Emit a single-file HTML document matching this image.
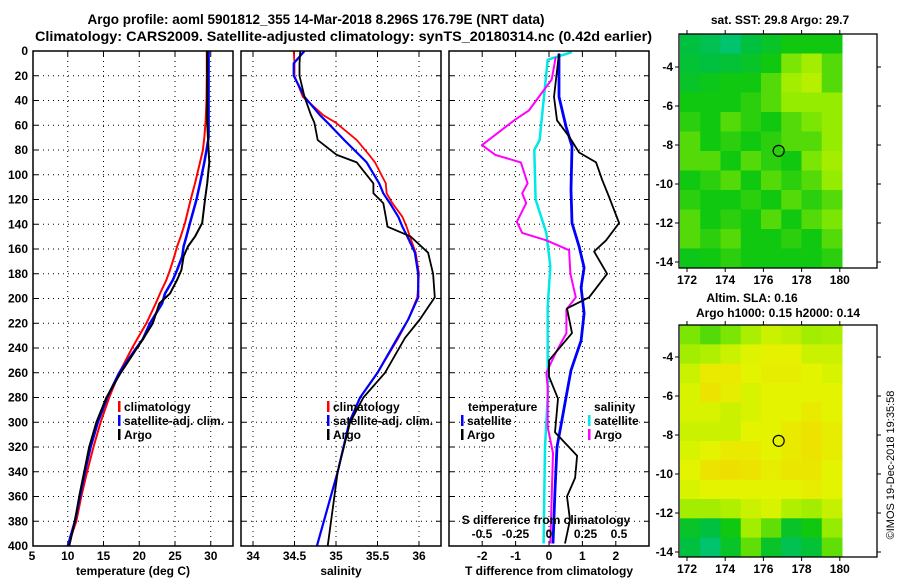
<!DOCTYPE html>
<html><head><meta charset="utf-8"><style>
html,body{margin:0;padding:0;background:#fff;}
svg{display:block;font-family:"Liberation Sans",Arial,sans-serif;font-weight:bold;}
</style></head><body>
<svg id="c" width="900" height="580" viewBox="0 0 900 580" xmlns="http://www.w3.org/2000/svg">
<text x="316" y="24" text-anchor="middle" font-size="13.5">Argo profile: aoml 5901812_355 14-Mar-2018 8.296S 176.79E (NRT data)</text>
<text x="343.5" y="41" text-anchor="middle" font-size="14" textLength="617" lengthAdjust="spacingAndGlyphs">Climatology: CARS2009. Satellite-adjusted climatology: synTS_20180314.nc (0.42d earlier)</text>
<text x="780" y="24" text-anchor="middle" font-size="12">sat. SST: 29.8 Argo: 29.7</text>
<text x="752" y="302" text-anchor="middle" font-size="12">Altim. SLA: 0.16</text>
<text x="778" y="317" text-anchor="middle" font-size="12">Argo h1000: 0.15 h2000: 0.14</text>
<text transform="translate(894,465) rotate(-90)" text-anchor="middle" font-size="11" font-weight="normal">©IMOS 19-Dec-2018 19:35:58</text>
</svg>
<script>
// ---- data ----
const depthTicks=[0,20,40,60,80,100,120,140,160,180,200,220,240,260,280,300,320,340,360,380,400];
const tDepth=[0,20,40,56,70,80,90,107,120,139,150,158,166,177,185,196,204,220,233,240,260,280,300,320,340,360,380,400];
const tClim=[29.45,29.45,29.4,29.3,29.1,28.9,28.5,27.8,27.2,26.4,25.8,25.3,24.9,24.3,23.8,22.9,22.3,21.0,19.7,19.0,17.2,15.8,14.6,13.6,12.7,11.9,11.2,10.0];
const tSat=[29.7,29.7,29.7,29.7,29.7,29.4,29.1,28.5,28.0,27.1,26.6,26.2,26.0,25.3,24.7,23.6,23.2,21.5,20.5,19.6,17.2,15.5,14.2,13.2,12.4,11.7,11.0,10.0];
const tArgo=[29.5,29.5,29.5,29.5,29.6,29.7,29.8,29.5,29.2,28.8,27.8,26.8,26.2,25.9,25.3,24.3,22.8,21.9,20.5,19.7,17.4,15.4,14.0,13.0,12.3,11.6,11.0,10.2];
const sDepth=[0,10,20,37,52,58,72,84,90,107,115,123,134,142,150,163,180,199,217,232,260,280,300,340,400];
const sClim=[34.49,34.5,34.5,34.6,34.85,35.0,35.25,35.4,35.47,35.6,35.61,35.68,35.8,35.85,35.89,35.96,36.0,35.98,35.87,35.75,35.5,35.29,35.16,35.02,34.77];
const sSat=[34.62,34.49,34.49,34.62,34.81,34.9,35.1,35.28,35.37,35.52,35.57,35.65,35.75,35.8,35.86,35.95,35.99,35.99,35.87,35.74,35.5,35.29,35.16,35.02,34.77];
const sArgo=[34.57,34.56,34.56,34.62,34.7,34.74,34.78,35.01,35.25,35.45,35.45,35.57,35.6,35.62,35.9,36.11,36.17,36.19,36.01,35.83,35.59,35.33,35.17,35.02,34.9];
const dTDepth=[2,37,56,69,82,90,104,118,139,153,162,180,199,208,228,250,263,281,308,327,345,360,379,398];
const dTArgo=[0.3,0.15,0.24,0.6,0.9,1.41,1.59,1.8,2.1,1.71,1.35,1.74,1.2,0.54,0.69,0.0,0.0,0.27,0.18,0.84,0.78,0.54,0.63,0.48];
const dTsDepth=[2,37,61,77,112,139,158,175,191,212,234,258,280,298,320,355,398];
const dTSat=[0.3,0.3,0.51,0.69,0.66,0.69,0.9,1.05,0.96,1.05,0.96,0.66,0.51,0.39,0.24,0.18,0.12];
const dSDepth=[5,23,48,56,76,84,90,107,115,123,138,147,153,161,180,199,209,228,244,260,272,304,325,360,398];
const dSArgo=[0.05,0.02,-0.15,-0.26,-0.5,-0.4,-0.21,-0.16,-0.2,-0.17,-0.24,-0.2,-0.02,0.15,0.16,0.2,0.13,0.13,0.05,-0.02,-0.01,-0.01,0.03,0.02,0.01];
const dSsDepth=[1,7,40,72,80,120,147,174,207,280,320,398];
const dSSat=[0.17,-0.01,-0.04,-0.07,-0.11,-0.1,-0.02,0.01,-0.01,-0.01,-0.03,-0.04];
const sstGrid=[
[0.4,0.38,0.35,0.4,0.45,0.5,0.5,0.5],
[0.42,0.4,0.42,0.45,0.5,0.58,0.62,0.55],
[0.45,0.48,0.5,0.5,0.55,0.62,0.65,0.55],
[0.5,0.5,0.5,0.52,0.55,0.6,0.6,0.6],
[0.52,0.5,0.55,0.52,0.5,0.55,0.58,0.6],
[0.55,0.5,0.52,0.5,0.52,0.55,0.55,0.6],
[0.55,0.55,0.5,0.55,0.52,0.5,0.58,0.62],
[0.5,0.52,0.55,0.5,0.55,0.52,0.55,0.6],
[0.52,0.5,0.5,0.52,0.5,0.55,0.52,0.55],
[0.55,0.5,0.52,0.5,0.55,0.5,0.55,0.58],
[0.55,0.52,0.55,0.5,0.5,0.52,0.5,0.55],
[0.48,0.5,0.52,0.5,0.5,0.5,0.5,0.52]];
const slaGrid=[
[0.58,0.55,0.58,0.63,0.68,0.66,0.62,0.63],
[0.62,0.64,0.68,0.71,0.73,0.73,0.68,0.68],
[0.68,0.75,0.75,0.72,0.74,0.74,0.72,0.7],
[0.7,0.77,0.74,0.7,0.72,0.72,0.72,0.72],
[0.7,0.7,0.68,0.7,0.72,0.72,0.75,0.72],
[0.68,0.68,0.68,0.72,0.72,0.75,0.77,0.74],
[0.7,0.72,0.75,0.75,0.72,0.75,0.77,0.74],
[0.72,0.77,0.78,0.77,0.74,0.76,0.76,0.72],
[0.7,0.72,0.72,0.72,0.72,0.72,0.74,0.72],
[0.62,0.62,0.64,0.68,0.7,0.64,0.62,0.67],
[0.45,0.4,0.5,0.62,0.56,0.45,0.5,0.6],
[0.4,0.35,0.45,0.56,0.45,0.38,0.42,0.56]];
const lonTicks=[172,174,176,178,180];
const latTicks=[-4,-6,-8,-10,-12,-14];
const argoLon=176.8, argoLat=-8.3;

// ---- helpers ----
const svg=document.getElementById('c');
const NS='http://www.w3.org/2000/svg';
function mk(tag,attrs,parent){const e=document.createElementNS(NS,tag);for(const k in attrs)e.setAttribute(k,attrs[k]);(parent||svg).appendChild(e);return e;}
const PT=51, PB=546;
const yD=d=>PT+(d/400)*(PB-PT);
const panels=[
 {l:33,r:233,x:v=>32+(v-5)*7.15,grid:[10,15,20,25,30],labels:[5,10,15,20,25,30],name:'temperature'},
 {l:241,r:441,x:v=>253+(v-34)*83,grid:[34,34.5,35,35.5,36],labels:[34,34.5,35,35.5,36],name:'salinity'},
 {l:449,r:649,x:v=>549+v*33.4,grid:[-2,-1,0,1,2],labels:[-2,-1,0,1,2],name:'t-difference'}];
const sx=v=>549+v*134;

panels.forEach((p,pi)=>{
 const g=mk('g',{});
 
 
 p.grid.forEach(v=>{const x=p.x(v);const ln=mk('line',{x1:x,x2:x,y1:PT,y2:PB,stroke:'#000','stroke-width':1,'stroke-dasharray':'1,4'},g);
  
  mk('line',{x1:x,x2:x,y1:PT,y2:PT+5,stroke:'#000'},g);mk('line',{x1:x,x2:x,y1:PB,y2:PB-5,stroke:'#000'},g);});
 depthTicks.forEach(d=>{const y=yD(d);
  if(d>0&&d<400){const ln=mk('line',{x1:p.l,x2:p.r,y1:y,y2:y,stroke:'#000','stroke-width':1,'stroke-dasharray':'1,4'},g);
  }
  mk('line',{x1:p.l,x2:p.l+5,y1:y,y2:y,stroke:'#000'},g);mk('line',{x1:p.r,x2:p.r-5,y1:y,y2:y,stroke:'#000'},g);});
 p.labels.forEach(v=>{const t=mk('text',{x:p.x(v),y:560,'text-anchor':'middle','font-size':12},g);t.textContent=v;
  });
});
depthTicks.forEach(d=>{const t=mk('text',{x:28,y:yD(d)+4,'text-anchor':'end','font-size':12});t.textContent=d;
 });

function line(xs,ds,fx,color,w,name){
 const pts=xs.map((v,i)=>fx(v).toFixed(1)+','+yD(ds[i]).toFixed(1)).join(' ');
 const e=mk('polyline',{points:pts,fill:'none',stroke:color,'stroke-width':w,'stroke-linejoin':'round'});
 }
const P=panels;
line(tClim,tDepth,P[0].x,'#f00',2,'temp-climatology-line');
line(tSat,tDepth,P[0].x,'#00f',2.5,'temp-satellite-line');
line(tArgo,tDepth,P[0].x,'#000',2,'temp-argo-line');
line(sClim,sDepth,P[1].x,'#f00',1.8,'sal-climatology-line');
line(sSat,sDepth,P[1].x,'#00f',2.2,'sal-satellite-line');
line(sArgo,sDepth,P[1].x,'#000',1.8,'sal-argo-line');
line(dSSat,dSsDepth,sx,'#00e8e8',2.5,'sdiff-satellite-line');
line(dSArgo,dSDepth,sx,'#f0f',2,'sdiff-argo-line');
line(dTSat,dTsDepth,P[2].x,'#00f',2.8,'tdiff-satellite-line');
line(dTArgo,dTDepth,P[2].x,'#000',1.8,'tdiff-argo-line');

panels.forEach(p=>{const r=mk('rect',{x:p.l,y:PT,width:p.r-p.l,height:PB-PT,fill:'none',stroke:'#000','stroke-width':1.5});
 });

const sLab=[-0.5,-0.25,0,0.25,0.5];
sLab.forEach(v=>{const t=mk('text',{x:sx(v)+(v>0?3:0),y:538,'text-anchor':'middle','font-size':12});t.textContent=v;
 });
function txt(x,y,s,name,anchor,size){const t=mk('text',{x:x,y:y,'text-anchor':anchor||'start','font-size':size||12});t.textContent=s;
 return t;}
txt(546,524,'S difference from climatology','s-diff-axis-title','middle');
txt(133,575,'temperature (deg C)','x-axis-title-temperature','middle');
txt(341,575,'salinity','x-axis-title-salinity','middle');
txt(549,575,'T difference from climatology','x-axis-title-tdiff','middle');

function leg(x,y,color,label,name,tx){mk('rect',{x:x,y:y-10,width:2.5,height:11,fill:color});
 const t=txt(tx===undefined?x+6:tx,y,label,name);return t;}
leg(118,411,'#f00','climatology','legend-temp-climatology');
leg(118,425,'#00f','satellite-adj. clim.','legend-temp-satellite');
leg(118,439,'#000','Argo','legend-temp-argo');
leg(327,411,'#f00','climatology','legend-sal-climatology');
leg(327,425,'#00f','satellite-adj. clim.','legend-sal-satellite');
leg(327,439,'#000','Argo','legend-sal-argo');
txt(468,411,'temperature','legend-tdiff-header');
leg(461,425,'#00f','satellite','legend-tdiff-satellite');
leg(461,439,'#000','Argo','legend-tdiff-argo');
txt(594,411,'salinity','legend-sdiff-header');
leg(588,425,'#00e8e8','satellite','legend-sdiff-satellite');
leg(588,439,'#f0f','Argo','legend-sdiff-argo');

const stops=[[0,[0,32,192]],[0.25,[0,200,200]],[0.4,[0,192,64]],[0.5,[16,200,16]],[0.6,[150,236,0]],[0.72,[228,244,0]],[0.85,[248,200,0]],[1,[240,96,0]]];
function cmap(v){for(let i=1;i<stops.length;i++){if(v<=stops[i][0]){const a=stops[i-1],b=stops[i],t=(v-a[0])/(b[0]-a[0]);
 return 'rgb('+a[1].map((c,k)=>Math.round(c+(b[1][k]-c)*t)).join(',')+')';}}return 'rgb(240,96,0)';}
const mx=lon=>687+(lon-172)*19.1;
function drawMap(grid,top,bottom,lat4y,name){
 const g=mk('g',{});
 const my=lat=>lat4y+(-4-lat)*19.5;
 const x0=680,x1=842,rows=grid.length,cols=grid[0].length;
 const cw=(x1-x0)/cols,ch=(bottom-top)/rows;
 grid.forEach((row,r)=>row.forEach((v,c)=>{const e=mk('rect',{x:x0+c*cw,y:top+r*ch,width:cw+0.5,height:ch+0.5,fill:cmap(v)},g);
  }));
 const f=mk('rect',{x:679,y:top,width:198,height:bottom-top,fill:'none',stroke:'#000','stroke-width':1.3},g);
 
 lonTicks.forEach(l=>{const x=mx(l);mk('line',{x1:x,x2:x,y1:top,y2:top-4,stroke:'#000'},g);mk('line',{x1:x,x2:x,y1:bottom,y2:bottom+4,stroke:'#000'},g);
  const t=mk('text',{x:x,y:bottom+16,'text-anchor':'middle','font-size':12},g);t.textContent=l;
  });
 latTicks.forEach(l=>{const y=my(l);mk('line',{x1:679,x2:675,y1:y,y2:y,stroke:'#000'},g);mk('line',{x1:877,x2:881,y1:y,y2:y,stroke:'#000'},g);
  const t=mk('text',{x:673,y:y+4,'text-anchor':'end','font-size':12},g);t.textContent=l;
  });
 const ci=mk('circle',{cx:mx(argoLon),cy:my(argoLat),r:5.5,fill:'none',stroke:'#000','stroke-width':1.2},g);
 
}
drawMap(sstGrid,34,268,67,'sst-map');
drawMap(slaGrid,325,557,357,'sla-map');
</script>
</body></html>
